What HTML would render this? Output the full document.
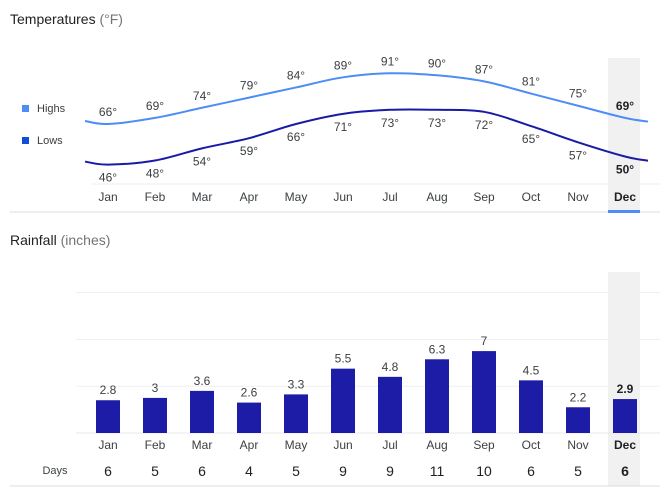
<!DOCTYPE html>
<html><head><meta charset="utf-8"><style>
body{margin:0;width:671px;height:494px;background:#fff;font-family:"Liberation Sans",Arial,sans-serif;overflow:hidden}
svg text{font-family:"Liberation Sans",Arial,sans-serif}
</style></head><body>
<svg id="c" width="671" height="494">
<rect x="608" y="58" width="32" height="154" fill="#f1f1f1"/>
<rect x="608" y="272" width="32" height="214" fill="#f1f1f1"/>
<text x="10" y="24" font-size="14" fill="#202124">Temperatures <tspan fill="#70757a">(°F)</tspan></text>
<rect x="22" y="105" width="7" height="7" fill="#4c8df6"/>
<text x="37" y="112" font-size="11" fill="#3c4043">Highs</text>
<rect x="22" y="137" width="7" height="7" fill="#0f4fd6"/>
<text x="37" y="144" font-size="11" fill="#3c4043">Lows</text>
<line x1="92" y1="184" x2="660" y2="184" stroke="#eee"/>
<line x1="10" y1="212" x2="660" y2="212" stroke="#dadce0"/>
<rect x="608" y="210" width="32" height="3" fill="#4c8df6"/>
<text x="10" y="245" font-size="14" fill="#202124">Rainfall <tspan fill="#70757a">(inches)</tspan></text>
<text x="55" y="474" font-size="11" fill="#3c4043" text-anchor="middle">Days</text>
<line x1="10" y1="486" x2="660" y2="486" stroke="#dadce0"/>
<g id="temp"></g><g id="rain"></g>
</svg>
<script>
const months=["Jan","Feb","Mar","Apr","May","Jun","Jul","Aug","Sep","Oct","Nov","Dec"];
const highs=[66,69,74,79,84,89,91,90,87,81,75,69];
const lows=[46,48,54,59,66,71,73,73,72,65,57,50];
const rain=[2.8,3,3.6,2.6,3.3,5.5,4.8,6.3,7,4.5,2.2,2.9];
const days=[6,5,6,4,5,9,9,11,10,6,5,6];
const rainTicks=[0,4,8,12];
const NS="http://www.w3.org/2000/svg";
const xAt=i=>108+i*47;
const yT=v=>124-(v-66)*2.03;
const yR=v=>433-v*11.7;
function mk(tag,attrs,parent){const e=document.createElementNS(NS,tag);for(const k in attrs)e.setAttribute(k,attrs[k]);parent.appendChild(e);return e;}
const tg=document.getElementById('temp'),rg=document.getElementById('rain');
function path(vals){
  const pts=vals.map((v,i)=>[xAt(i),yT(v)]);
  const n=pts.length;
  const first=[85,pts[0][1]-(pts[1][1]-pts[0][1])*0.35*0+ (yT(vals[0]+1.5)-pts[0][1])];
  const last=[648,pts[n-1][1]+(pts[n-1][1]-pts[n-2][1])*0.3];
  const all=[first,...pts,last];
  let d="M"+all[0].join(",");
  for(let i=1;i<all.length;i++){
    const p0=all[Math.max(0,i-2)],p1=all[i-1],p2=all[i],p3=all[Math.min(all.length-1,i+1)];
    const c1=[p1[0]+(p2[0]-p0[0])/6,p1[1]+(p2[1]-p0[1])/6];
    const c2=[p2[0]-(p3[0]-p1[0])/6,p2[1]-(p3[1]-p1[1])/6];
    d+=` C${c1.join(",")} ${c2.join(",")} ${p2.join(",")}`;
  }
  return d;
}
let e;
e=mk('path',{d:path(highs),fill:'none',stroke:'#4c8df6','stroke-width':2},tg);


e=mk('path',{d:path(lows),fill:'none',stroke:'#1a1aa6','stroke-width':2},tg);


for(let i=0;i<12;i++){
  const bold=i===11;
  const fw=bold?'bold':'normal',col=bold?'#202124':'#3c4043';
  e=mk('text',{x:xAt(i),y:yT(highs[i])-8,'font-size':12,'text-anchor':'middle',fill:col,'font-weight':fw},tg);e.textContent=highs[i]+"°";
  
  
  e=mk('text',{x:xAt(i),y:yT(lows[i])+17,'font-size':12,'text-anchor':'middle',fill:col,'font-weight':fw},tg);e.textContent=lows[i]+"°";
  
  
  e=mk('text',{x:xAt(i),y:201,'font-size':12,'text-anchor':'middle',fill:col,'font-weight':fw},tg);e.textContent=months[i];
  
  
}
rainTicks.forEach(t=>{
  e=mk('line',{x1:76,x2:660,y1:yR(t),y2:yR(t),stroke:t===0?'#e8e8e8':'#efefef'},rg);
  
  
});
for(let i=0;i<12;i++){
  const bold=i===11;
  const fw=bold?'bold':'normal',col=bold?'#202124':'#3c4043';
  e=mk('rect',{x:xAt(i)-12,y:yR(rain[i]),width:24,height:yR(0)-yR(rain[i]),fill:'#1c1ca6'},rg);
  
  
  e=mk('text',{x:xAt(i),y:yR(rain[i])-6,'font-size':12,'text-anchor':'middle',fill:col,'font-weight':fw},rg);e.textContent=rain[i];
  
  
  e=mk('text',{x:xAt(i),y:449,'font-size':12,'text-anchor':'middle',fill:col,'font-weight':fw},rg);e.textContent=months[i];
  
  
  e=mk('text',{x:xAt(i),y:476,'font-size':14,'text-anchor':'middle',fill:'#202124','font-weight':fw},rg);e.textContent=days[i];
  
  
}
</script>
</body></html>
